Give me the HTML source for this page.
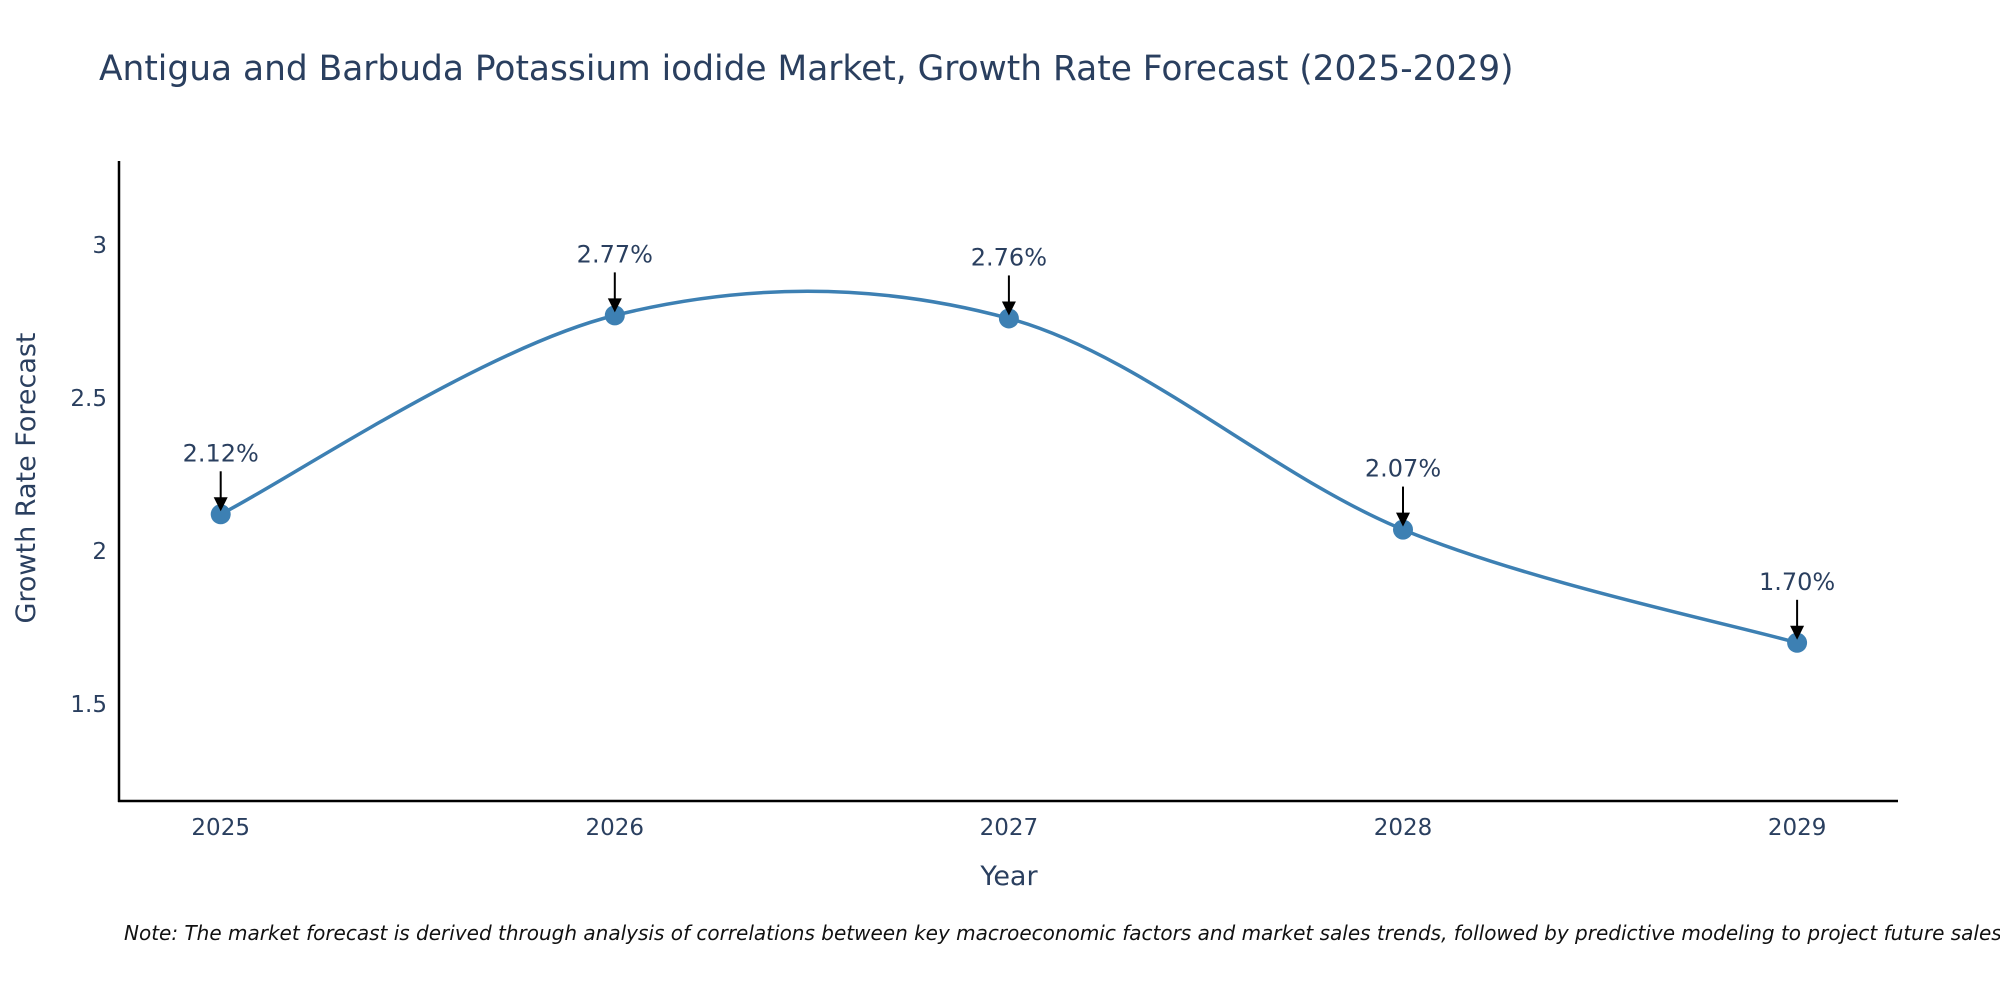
<!DOCTYPE html>
<html><head><meta charset="utf-8"><style>
body{margin:0;background:#fff;overflow:hidden;}
svg text{font-family:"DejaVu Sans","Liberation Sans",sans-serif;fill:#2a3f5f;}
</style></head><body>
<svg width="2000" height="1000" xmlns="http://www.w3.org/2000/svg">
<text x="99" y="80" font-size="34.4">Antigua and Barbuda Potassium iodide Market, Growth Rate Forecast (2025-2029)</text>
<g id="axes"></g>
<g id="plot"></g>
<text x="1009" y="885" font-size="27" text-anchor="middle">Year</text>
<text transform="translate(35,478) rotate(-90)" font-size="27" text-anchor="middle">Growth Rate Forecast</text>
<text x="124" y="940" font-size="20" font-style="italic" style="fill:#111">Note: The market forecast is derived through analysis of correlations between key macroeconomic factors and market sales trends, followed by predictive modeling to project future sales.</text>
</svg>
<script>
const years=[2025,2026,2027,2028,2029];
const values=[2.12,2.77,2.76,2.07,1.70];
const yTicks=[1.5,2,2.5,3];
const yTickLabels=["1.5","2","2.5","3"];
const NS="http://www.w3.org/2000/svg";
const X0=119,X1=1898,Y0=801,Y1=161;
function xs(v){return 220.7+(v-2025)*394.1;}
function ys(v){return 551-(v-2)*306;}
function mk(t,a,p){const e=document.createElementNS(NS,t);for(const k in a)e.setAttribute(k,a[k]);p.appendChild(e);return e;}
const axes=document.getElementById('axes'),plot=document.getElementById('plot');
let l=mk('line',{x1:X0,y1:Y1,x2:X0,y2:Y0+1,stroke:'#000','stroke-width':2.5},axes);


l=mk('line',{x1:X0-1,y1:Y0,x2:X1,y2:Y0,stroke:'#000','stroke-width':2.5},axes);


yTicks.forEach((v,i)=>{const t=mk('text',{x:X0-12,y:ys(v)+8,'font-size':23,'text-anchor':'end'},axes);t.textContent=yTickLabels[i];

});
years.forEach(y=>{const t=mk('text',{x:xs(y),y:835,'font-size':23,'text-anchor':'middle'},axes);t.textContent=String(y);

});
const pts=years.map((y,i)=>[xs(y),ys(values[i])]);
let d='M'+pts[0][0]+','+pts[0][1];
for(let i=0;i<pts.length-1;i++){const p0=pts[Math.max(0,i-1)],p1=pts[i],p2=pts[i+1],p3=pts[Math.min(pts.length-1,i+2)];const k=1/6;
d+=' C'+(p1[0]+(p2[0]-p0[0])*k)+','+(p1[1]+(p2[1]-p0[1])*k)+' '+(p2[0]-(p3[0]-p1[0])*k)+','+(p2[1]-(p3[1]-p1[1])*k)+' '+p2[0]+','+p2[1];}
const path=mk('path',{d:d,fill:'none',stroke:'#3d80b3','stroke-width':3.5},plot);


pts.forEach((p,i)=>{
const c=mk('circle',{cx:p[0],cy:p[1],r:10,fill:'#3d80b3'},plot);


const a=mk('line',{x1:p[0],y1:p[1]-43,x2:p[0],y2:p[1]-16,stroke:'#000','stroke-width':2},plot);


const h=mk('path',{d:'M'+(p[0]-7)+','+(p[1]-17)+' L'+(p[0]+7)+','+(p[1]-17)+' L'+p[0]+','+(p[1]-3)+' Z',fill:'#000'},plot);


const t=mk('text',{x:p[0],y:p[1]-53,'font-size':24,'text-anchor':'middle'},plot);t.textContent=values[i].toFixed(2)+'%';

});
</script>
</body></html>
